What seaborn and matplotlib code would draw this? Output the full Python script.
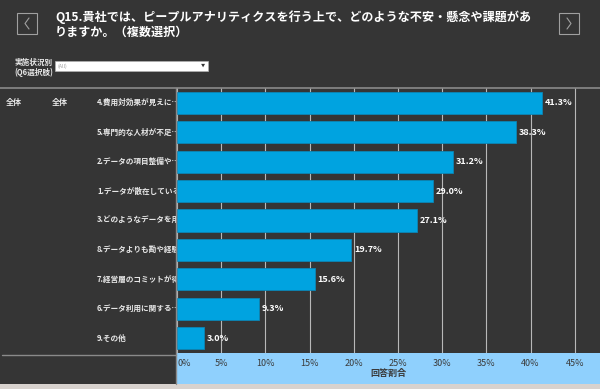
import matplotlib.pyplot as plt
import pandas as pd
import seaborn as sns
from matplotlib.lines import Line2D
from matplotlib.patches import Rectangle

# Data
categories = [
    "4.費用対効果が見えにくい",
    "5.専門的な人材が不足している",
    "2.データの項目整備や収集が難しい",
    "1.データが散在している",
    "3.どのようなデータを用いればよいかわからない",
    "8.データよりも勘や経験が重視される",
    "7.経営層のコミットが得られない",
    "6.データ利用に関する社内の理解が得られない",
    "9.その他",
]
display_labels = [
    "4.費用対効果が見えに…",
    "5.専門的な人材が不足…",
    "2.データの項目整備や…",
    "1.データが散在している",
    "3.どのようなデータを用い",
    "8.データよりも勘や経験",
    "7.経営層のコミットが得",
    "6.データ利用に関する…",
    "9.その他",
]
values = [41.3, 38.3, 31.2, 29.0, 27.1, 19.7, 15.6, 9.3, 3.0]
x_ticks = [0, 5, 10, 15, 20, 25, 30, 35, 40, 45]

title_lines = [
    "Q15.貴社では、ピープルアナリティクスを行う上で、どのような不安・懸念や課題があ",
    "りますか。（複数選択）",
]

# Style
BG = "#353535"
BAR = "#00a3e0"
BAND = "#8fd0fd"
W, H = 600, 389

sns.set_theme(style="dark")
plt.rcParams["font.family"] = ["Noto Sans CJK JP", "DejaVu Sans"]


def fx(x):
    return x / W


def fy(y):
    return 1 - y / H


df = pd.DataFrame({"category": categories, "value": values})

fig = plt.figure(figsize=(6, 3.89), dpi=100, facecolor=BG)

# main bar axes
ax = fig.add_axes([fx(177), fy(353), fx(W - 177), (353 - 88) / H])
ax.set_facecolor("none")
sns.barplot(
    data=df, x="value", y="category", orient="h", color=BAR,
    edgecolor="#0b86b6", linewidth=0.6, width=0.75, saturation=1, ax=ax,
)
ax.set_xlim(0, 47.85)
ax.set_yticks([])
ax.set_ylabel("")
ax.set_xticks(x_ticks)
ax.set_xticklabels([f"{t}%" for t in x_ticks])
ax.get_xticklabels()[0].set_horizontalalignment("left")
ax.xaxis.grid(True, color="#b8b8b8", linewidth=0.8)
ax.set_axisbelow(True)
for s in ax.spines.values():
    s.set_visible(False)
ax.tick_params(axis="x", length=0, pad=4, labelcolor="#3a3a3a", labelsize=6.5)
ax.set_xlabel("回答割合", fontsize=6.5, color="#3a3a3a", labelpad=1, fontweight="bold")
ax.bar_label(
    ax.containers[0], labels=[f"{v:.1f}%" for v in values], padding=2,
    color="white", fontsize=6.5, fontweight="bold",
)

# left label area
lab = fig.add_axes([0, fy(353), fx(176), (353 - 88) / H])
lab.set_xlim(0, 176)
lab.set_ylim(ax.get_ylim())
lab.axis("off")
for i, lbl in enumerate(display_labels):
    lab.text(97, i, lbl, color="#e8e8e8", fontsize=5.5, fontweight="bold",
             va="center", ha="left", clip_on=True)
lab.text(6, 0, "全体", color="#e8e8e8", fontsize=5.8, fontweight="bold", va="center")
lab.text(52, 0, "全体", color="#e8e8e8", fontsize=5.8, fontweight="bold", va="center")

# bottom axis band
fig.patches.append(Rectangle((fx(177), fy(384)), fx(W - 177), (384 - 353) / H,
                             transform=fig.transFigure, facecolor=BAND,
                             edgecolor="none", zorder=-1))
fig.patches.append(Rectangle((0, 0), 1, 5 / H, transform=fig.transFigure,
                             facecolor="#d8d2ce", edgecolor="none", zorder=-1))

# separators
fig.add_artist(Line2D([0, 1], [fy(88)] * 2, transform=fig.transFigure,
                      color="#8a8a8a", linewidth=1.2))
fig.add_artist(Line2D([fx(176)] * 2, [fy(88), fy(384)], transform=fig.transFigure,
                      color="#8a8a8a", linewidth=1.0))
fig.add_artist(Line2D([fx(2), fx(176)], [fy(355)] * 2, transform=fig.transFigure,
                      color="#8a8a8a", linewidth=1.0))

# title
fig.text(fx(55), fy(17), title_lines[0], color="white", fontsize=8.7,
         fontweight="bold", va="center", ha="left")
fig.text(fx(55), fy(32.5), title_lines[1], color="white", fontsize=8.7,
         fontweight="bold", va="center", ha="left")

# nav buttons
for x0 in (17, 559):
    fig.patches.append(Rectangle((fx(x0), fy(34)), fx(20), 21 / H,
                                 transform=fig.transFigure, facecolor="none",
                                 edgecolor="#a0a0a0", linewidth=0.8))
fig.add_artist(Line2D([fx(29), fx(25), fx(29)], [fy(18), fy(23.5), fy(29)],
                      transform=fig.transFigure, color="#a0a0a0", linewidth=0.8))
fig.add_artist(Line2D([fx(567), fx(571), fx(567)], [fy(18), fy(23.5), fy(29)],
                      transform=fig.transFigure, color="#a0a0a0", linewidth=0.8))

# filter
fig.text(fx(53), fy(62.5), "実施状況別", color="#e8e8e8", fontsize=5.5,
         fontweight="bold", va="center", ha="right")
fig.text(fx(53), fy(72.5), "(Q6選択肢)", color="#e8e8e8", fontsize=5.5,
         fontweight="bold", va="center", ha="right")
fig.patches.append(Rectangle((fx(55), fy(71)), fx(153), 10 / H,
                             transform=fig.transFigure, facecolor="white",
                             edgecolor="#b0b0b0", linewidth=0.5))
fig.text(fx(58), fy(66), "(All)", color="#a0a0a0", fontsize=3.8, va="center")
fig.text(fx(203), fy(66), "▼", color="#333333", fontsize=3, va="center", ha="center")

fig.savefig("out.png", dpi=100, facecolor=BG)
